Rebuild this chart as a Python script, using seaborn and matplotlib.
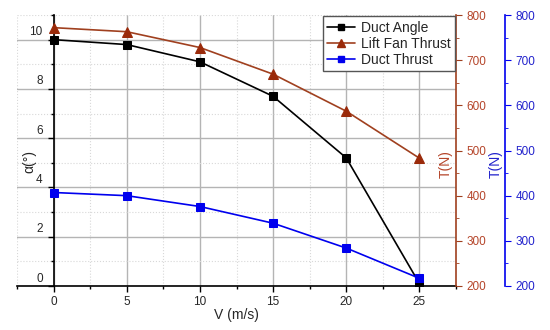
import matplotlib
matplotlib.use("Agg")
import matplotlib.pyplot as plt
import matplotlib.transforms as mtransforms
from matplotlib.ticker import MultipleLocator
from matplotlib.lines import Line2D
import seaborn as sns
import pandas as pd

V = [0, 5, 10, 15, 20, 25]
duct_angle = [10.0, 9.8, 9.1, 7.7, 5.2, 0.1]
lift_fan_thrust = [772, 763, 728, 669, 587, 483]
duct_thrust = [407, 400, 376, 339, 284, 217]

sns.set_style("white")
plt.rcParams['font.family'] = ['Liberation Sans', 'DejaVu Sans']

RED = '#a0401f'
REDTXT = '#b5452a'
BLUE = '#0000ee'
BLUETXT = '#2222cc'

fig = plt.figure(figsize=(5.5, 3.3), dpi=100)
ax = fig.add_axes([17/550, 1-286/330, (456-17)/550, (286-15)/330])
ax2 = ax.twinx()
ax3 = ax.twinx()

df = pd.DataFrame({'V': V, 'a': duct_angle, 'L': lift_fan_thrust, 'D': duct_thrust})

sns.lineplot(data=df, x='V', y='a', ax=ax, color='black', marker='s', markersize=6,
             markeredgecolor='black', linewidth=1.2, zorder=5)
sns.lineplot(data=df, x='V', y='L', ax=ax2, color=RED, marker='^', markersize=7,
             markeredgecolor='#9a2a0a', markerfacecolor='#9a2a0a', linewidth=1.2, zorder=5)
sns.lineplot(data=df, x='V', y='D', ax=ax3, color=BLUE, marker='s', markersize=6,
             markeredgecolor=BLUE, linewidth=1.2, zorder=5)

ax.set_xlim(-2.5, 27.5)
ax.set_ylim(0, 11)
ax2.set_ylim(200, 800)
ax3.set_ylim(200, 800)

# main axis spines
ax.spines['left'].set_position(('data', 0))
ax.spines['top'].set_visible(False)
ax.spines['right'].set_visible(False)
for s in ['left', 'bottom']:
    ax.spines[s].set_color('black')
    ax.spines[s].set_linewidth(1.2)

ax.xaxis.set_major_locator(MultipleLocator(5))
ax.xaxis.set_minor_locator(MultipleLocator(2.5))
ax.yaxis.set_major_locator(MultipleLocator(2))
ax.yaxis.set_minor_locator(MultipleLocator(1))
ax.tick_params(axis='both', which='major', direction='out', length=4, width=1,
               labelsize=8.5, color='black', bottom=True, left=True)
ax.tick_params(axis='both', which='minor', direction='out', length=2.5, width=1,
               color='black', bottom=True, left=True)
ax.tick_params(axis='y', pad=3.8)

ax.grid(which='major', color='#b4b4b4', linewidth=1, linestyle='-')
ax.grid(which='minor', color='#d8d8d8', linewidth=0.8, linestyle=':')
ax.set_axisbelow(True)

ax.set_xlabel('V (m/s)', fontsize=10, labelpad=0)
ax.set_ylabel('α(°)', fontsize=10)
ax.yaxis.set_label_coords(19/439, 0.46)

# shift left tick labels upward like the reference
offset = mtransforms.ScaledTranslation(0, 0.09, fig.dpi_scale_trans)
for lab in ax.yaxis.get_majorticklabels():
    lab.set_transform(lab.get_transform() + offset)

for a in (ax2, ax3):
    a.spines['top'].set_visible(False)
    a.spines['left'].set_visible(False)
    a.spines['bottom'].set_visible(False)
    a.set_xlabel('')
    a.yaxis.set_major_locator(MultipleLocator(100))
    a.yaxis.set_minor_locator(MultipleLocator(50))

ax2.spines['right'].set_color(RED)
ax2.spines['right'].set_linewidth(1.2)
ax2.tick_params(axis='y', which='major', colors=RED, labelcolor=REDTXT, length=4, labelsize=8.5, direction='out')
ax2.tick_params(axis='y', which='minor', colors=RED, length=2.5, direction='out')
ax2.set_ylabel('T(N)', color=REDTXT, fontsize=10)
ax2.yaxis.set_label_position('right')
ax2.yaxis.set_label_coords(1 - 17/439, 0.45)

ax3.spines['right'].set_position(('outward', 49*0.72))
ax3.spines['right'].set_color(BLUE)
ax3.spines['right'].set_linewidth(1.2)
ax3.tick_params(axis='y', which='major', colors=BLUE, labelcolor=BLUETXT, length=4, labelsize=8.5, direction='out')
ax3.tick_params(axis='y', which='minor', colors=BLUE, length=2.5, direction='out')
ax3.set_ylabel('T(N)', color=BLUETXT, fontsize=10)
ax3.yaxis.set_label_coords(1 + 33/439, 0.45)

handles = [
    Line2D([], [], color='black', marker='s', markersize=5, linewidth=1.2),
    Line2D([], [], color=RED, marker='^', markersize=6, markerfacecolor='#9a2a0a',
           markeredgecolor='#9a2a0a', linewidth=1.2),
    Line2D([], [], color=BLUE, marker='s', markersize=5, linewidth=1.2),
]
leg = ax3.legend(handles, ['Duct Angle', 'Lift Fan Thrust', 'Duct Thrust'],
                 loc='upper right', bbox_to_anchor=(1.0, 1.0), fontsize=10,
                 frameon=True, fancybox=False, edgecolor='#555555', framealpha=1,
                 borderpad=0.3, labelspacing=0.15, handlelength=2.0, handletextpad=0.4,
                 borderaxespad=0.1)
leg.get_frame().set_linewidth(1)

fig.savefig('out.png', dpi=100)
